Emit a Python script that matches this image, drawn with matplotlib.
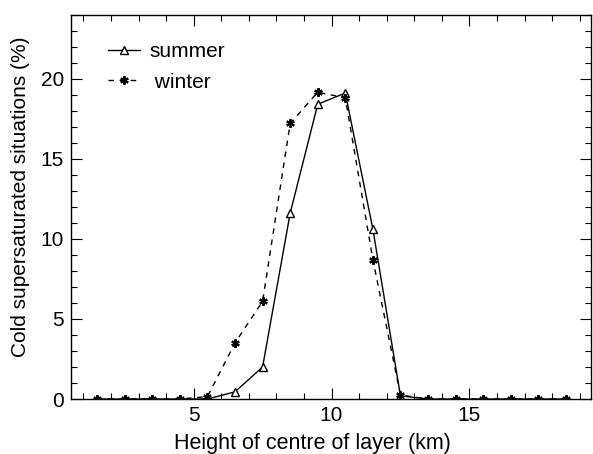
# Cold supersaturated situations vs height of layer centre

import numpy as np
import matplotlib.pyplot as plt
from matplotlib.ticker import MultipleLocator

plt.rcParams['font.family'] = ['Liberation Sans', 'DejaVu Sans']

# Datos
height = [1.5, 2.5, 3.5, 4.5, 5.5, 6.5, 7.5, 8.5, 9.5, 10.5, 11.5, 12.5,
          13.5, 14.5, 15.5, 16.5, 17.5, 18.5]
summer = [0, 0, 0, 0, 0, 0.45, 2.0, 11.6, 18.4, 19.1, 10.6, 0.2,
          0, 0, 0, 0, 0, 0]
winter = [0, 0, 0, 0, 0.15, 3.5, 6.1, 17.2, 19.15, 18.8, 8.7, 0.25,
          0, 0, 0, 0, 0, 0]

fig = plt.figure(figsize=(5.93, 4.54), dpi=100)
ax = fig.add_axes([0.1197, 0.1211, 0.8764, 0.8469])

ax.plot(height, summer, 'k-', lw=1.0, marker='^', ms=6, mfc='white',
        mec='k', mew=1.0, label='summer')
ax.plot(height, winter, 'k--', lw=1.0, dashes=(4, 4), marker=(6, 2, 0),
        ms=6, mew=1.6, label=' winter')

ax.set_xlim(0.55, 19.4)
ax.set_ylim(0, 24)
ax.xaxis.set_major_locator(MultipleLocator(5))
ax.xaxis.set_minor_locator(MultipleLocator(1))
ax.yaxis.set_major_locator(MultipleLocator(5))
ax.yaxis.set_minor_locator(MultipleLocator(1))
ax.tick_params(which='both', direction='in', top=True, right=True,
               labelsize=15, width=0.8, pad=5)
ax.tick_params(which='major', length=8)
ax.tick_params(which='minor', length=4)
for s in ax.spines.values():
    s.set_linewidth(1.0)

ax.set_xlabel('Height of centre of layer (km)', fontsize=15.5, labelpad=6,
              x=0.465)
ax.set_ylabel('Cold supersaturated situations (%)', fontsize=15, labelpad=8,
              y=0.525)

ax.legend(loc='upper left', bbox_to_anchor=(0.036, 0.977), frameon=False,
          fontsize=15, handlelength=1.5, handletextpad=0.45,
          labelspacing=0.55)

plt.savefig('out.png', dpi=100)
